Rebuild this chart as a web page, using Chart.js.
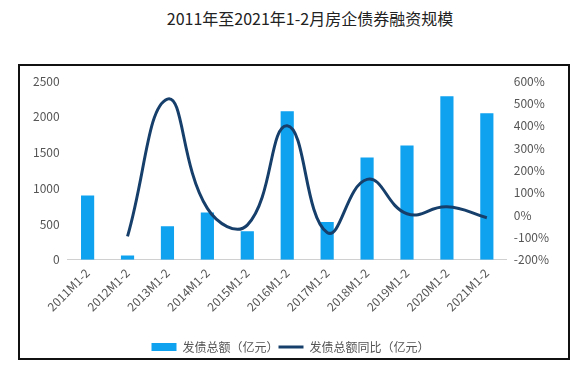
<!DOCTYPE html>
<html>
<head>
<meta charset="utf-8">
<script src="https://cdn.jsdelivr.net/npm/chart.js@4"></script>
<style>
  body { margin: 0; background: #fff; width: 582px; height: 372px; position: relative; overflow: hidden; }
  #title { position: absolute; left: 0; top: 6px; width: 620px; text-align: center;
    font: 16px "Noto Sans CJK SC", sans-serif; color: #222; }
  #box { position: absolute; left: 18px; top: 64px; width: 548px; height: 292px; border: 2px solid #111; }
</style>
</head>
<body>
<div id="title">2011年至2021年1-2月房企债券融资规模</div>
<div id="box"><canvas id="chart" width="548" height="292"></canvas></div>
<script>
const labels = ["2011M1-2", "2012M1-2", "2013M1-2", "2014M1-2", "2015M1-2", "2016M1-2",
  "2017M1-2", "2018M1-2", "2019M1-2", "2020M1-2", "2021M1-2"];
const issueAmount = [900, 60, 470, 660, 400, 2080, 530, 1430, 1600, 2290, 2050];
const issueYoY = [null, -95, 520, 30, -45, 400, -78, 160, 6, 37, -12];

const font = { family: "'Noto Sans CJK SC', sans-serif", size: 12 };

new Chart(document.getElementById("chart"), {
  data: {
    labels: labels,
    datasets: [
      {
        type: "line",
        label: "发债总额同比（亿元）",
        data: issueYoY,
        yAxisID: "y1",
        borderColor: "#173f6b",
        backgroundColor: "#173f6b",
        borderWidth: 3,
        pointRadius: 0,
        pointStyle: "line",
        tension: 0.45,
        order: 0,
      },
      {
        type: "bar",
        label: "发债总额（亿元）",
        data: issueAmount,
        yAxisID: "y",
        backgroundColor: "#0ea2ef",
        pointStyle: "rect",
        categoryPercentage: 1,
        barPercentage: 0.33,
        order: 1,
      },
    ],
  },
  options: {
    responsive: false,
    animation: false,
    layout: { padding: { top: 2, left: 5, right: 12, bottom: -5 } },
    plugins: {
      legend: {
        position: "bottom",
        reverse: true,
        title: { display: true, text: " ", font: { size: 10, lineHeight: 1 }, padding: { top: 11, bottom: 0 } },
        labels: {
          usePointStyle: true,
          pointStyleWidth: 25,
          boxHeight: 8,
          padding: 0,
          color: "#555",
          font: font,
        },
      },
      tooltip: { enabled: false },
    },
    scales: {
      x: {
        grid: { display: false, drawTicks: false },
        border: { color: "#d0d0d0" },
        ticks: { color: "#555", font: font, minRotation: 45, maxRotation: 45, padding: 6 },
      },
      y: {
        position: "left",
        min: 0,
        max: 2500,
        grid: { display: false, drawTicks: false },
        border: { display: false },
        ticks: { stepSize: 500, color: "#555", font: font, padding: 8, callback: (v) => String(v) },
      },
      y1: {
        position: "right",
        min: -200,
        max: 600,
        grid: { display: false, drawTicks: false },
        border: { display: false },
        ticks: { stepSize: 100, color: "#555", font: font, padding: 7,
          callback: (v) => v + "%" },
      },
    },
  },
});
</script>
</body>
</html>
